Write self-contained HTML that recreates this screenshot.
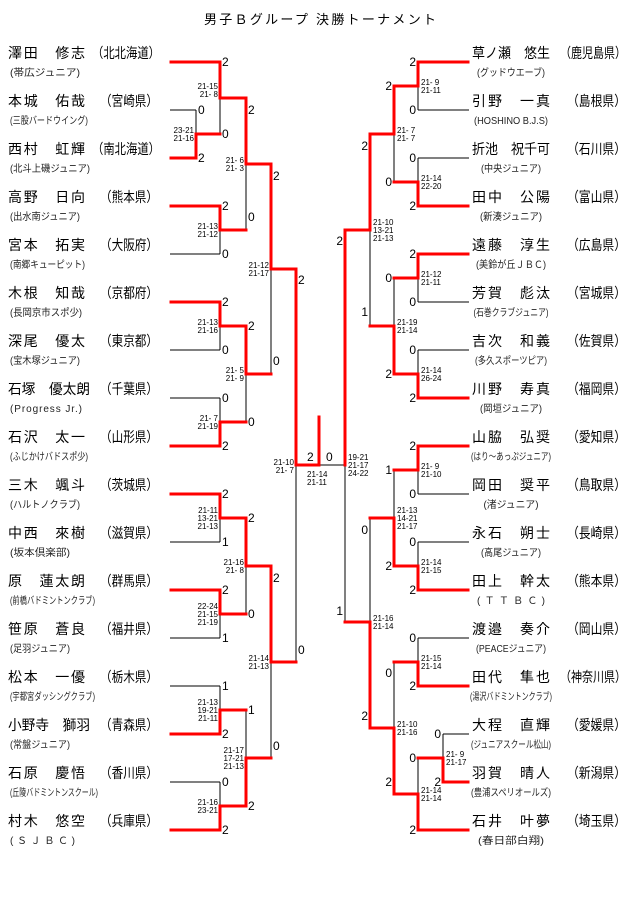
<!DOCTYPE html>
<html><head><meta charset="utf-8"><style>
html,body{margin:0;padding:0;background:#fff;}
svg{display:block;}
.nm{font-family:"Liberation Sans","Noto Sans CJK JP",sans-serif;font-size:14px;fill:#000;}
.cl{font-family:"Liberation Sans","Noto Sans CJK JP",sans-serif;font-size:10px;fill:#222;}
.sc{font-family:"Liberation Sans",sans-serif;font-size:8px;fill:#000;}
.dg{font-family:"Liberation Sans",sans-serif;font-size:12px;fill:#000;}
.tt{font-family:"Liberation Sans","Noto Sans CJK JP",sans-serif;font-size:13px;fill:#000;}
</style></head><body>
<svg width="640" height="905" viewBox="0 0 640 905" xmlns="http://www.w3.org/2000/svg">
<text class="tt" x="320" y="24" text-anchor="middle" textLength="232" lengthAdjust="spacing">男子Ｂグループ 決勝トーナメント</text>

<g stroke="#000" stroke-width="1" fill="none" shape-rendering="crispEdges">
<!-- left player lines -->
<path d="M170,62H220 M170,110H196 M170,158H196 M170,206H220 M170,254H220 M170,302H220 M170,350H220 M170,398H220 M170,446H220 M170,494H220 M170,542H220 M170,590H220 M170,638H220 M170,686H220 M170,734H220 M170,782H220 M170,830H220"/>
<path d="M196,110V158 M220,62V134 M220,206V254 M220,302V350 M220,398V446 M220,494V542 M220,590V638 M220,686V734 M220,782V830 M246,98V230 M246,326V422 M246,518V614 M246,710V806 M271,164V374 M271,566V758 M296,269V662"/>
<path d="M196,134H220 M220,98H246 M220,230H246 M220,326H246 M220,422H246 M220,518H246 M220,614H246 M220,710H246 M220,806H246 M246,164H271 M246,374H271 M246,566H271 M246,758H271 M271,269H296 M271,662H296 M296,465H345"/>
<!-- right -->
<path d="M418,62H469 M418,110H469 M418,158H469 M418,206H469 M418,254H469 M418,302H469 M418,350H469 M418,398H469 M418,446H469 M418,494H469 M418,542H469 M418,590H469 M418,638H469 M418,686H469 M443,734H469 M443,782H469 M418,830H469"/>
<path d="M418,62V110 M418,158V206 M418,254V302 M418,350V398 M418,446V494 M418,542V590 M418,638V686 M418,758V830 M443,734V782 M394,86V182 M394,278V374 M394,470V566 M394,662V794 M370,134V326 M370,518V728 M345,230V622"/>
<path d="M394,86H418 M394,182H418 M394,278H418 M394,374H418 M394,470H418 M394,566H418 M394,662H418 M394,794H418 M418,758H443 M370,134H394 M370,326H394 M370,518H394 M370,728H394 M345,230H370 M345,622H370"/>
</g>

<g stroke="#ff0000" stroke-width="3" fill="none" stroke-linejoin="miter" stroke-linecap="square">
<path d="M171,62H220V98H246V164H271V269H296V465H319V417"/>
<path d="M171,158H196V134H220"/>
<path d="M171,206H220V230H246"/>
<path d="M171,302H220V326H246V374H271"/>
<path d="M171,446H220V422H246"/>
<path d="M171,494H220V518H246V566H271V662H296"/>
<path d="M171,590H220V614H246"/>
<path d="M171,734H220V710H246"/>
<path d="M171,830H220V806H246V758H271"/>
<path d="M468,62H418V86H394V134H370V230H345V465"/>
<path d="M468,206H418V182H394"/>
<path d="M468,254H418V278H394"/>
<path d="M468,398H418V374H394V326H370"/>
<path d="M468,446H418V470H394"/>
<path d="M468,590H418V566H394V518H370"/>
<path d="M468,686H418V662H394"/>
<path d="M468,782H443V758H418"/>
<path d="M468,830H418V794H394V728H370V622H345"/>
</g>

<!-- win digits left -->
<g class="dg">
<text x="198" y="114">0</text><text x="198" y="162">2</text>
<text x="222" y="66">2</text><text x="222" y="138">0</text><text x="222" y="210">2</text><text x="222" y="258">0</text>
<text x="222" y="306">2</text><text x="222" y="354">0</text><text x="222" y="402">0</text><text x="222" y="450">2</text>
<text x="222" y="498">2</text><text x="222" y="546">1</text><text x="222" y="594">2</text><text x="222" y="642">1</text>
<text x="222" y="690">1</text><text x="222" y="738">2</text><text x="222" y="786">0</text><text x="222" y="834">2</text>
<text x="248" y="114">2</text><text x="248" y="221">0</text><text x="248" y="330">2</text><text x="248" y="426">0</text>
<text x="248" y="522">2</text><text x="248" y="618">0</text><text x="248" y="714">1</text><text x="248" y="810">2</text>
<text x="273" y="180">2</text><text x="273" y="365">0</text><text x="273" y="582">2</text><text x="273" y="750">0</text>
<text x="298" y="284">2</text><text x="298" y="654">0</text>
<text x="307" y="461">2</text><text x="326" y="461">0</text>
</g>
<!-- win digits right -->
<g class="dg" text-anchor="end">
<text x="416" y="66">2</text><text x="416" y="114">0</text><text x="416" y="162">0</text><text x="416" y="210">2</text>
<text x="416" y="258">2</text><text x="416" y="306">0</text><text x="416" y="354">0</text><text x="416" y="402">2</text>
<text x="416" y="450">2</text><text x="416" y="498">0</text><text x="416" y="546">0</text><text x="416" y="594">2</text>
<text x="416" y="642">0</text><text x="416" y="690">2</text><text x="416" y="762">0</text><text x="416" y="834">2</text>
<text x="441" y="738">0</text><text x="441" y="786">2</text>
<text x="392" y="90">2</text><text x="392" y="186">0</text><text x="392" y="282">0</text><text x="392" y="378">2</text>
<text x="392" y="474">1</text><text x="392" y="570">2</text><text x="392" y="677">0</text><text x="392" y="786">2</text>
<text x="368" y="150">2</text><text x="368" y="316">1</text><text x="368" y="534">0</text><text x="368" y="720">2</text>
<text x="343" y="245">2</text><text x="343" y="615">1</text>
</g>

<!-- scores left (right aligned) -->
<g class="sc" text-anchor="end">
<text x="194" y="133">23-21</text><text x="194" y="141">21-16</text>
<text x="218" y="89">21-15</text><text x="218" y="97">21- 8</text>
<text x="218" y="229">21-13</text><text x="218" y="237">21-12</text>
<text x="244" y="163">21- 6</text><text x="244" y="171">21- 3</text>
<text x="218" y="325">21-13</text><text x="218" y="333">21-16</text>
<text x="218" y="421">21- 7</text><text x="218" y="429">21-19</text>
<text x="244" y="373">21- 5</text><text x="244" y="381">21- 9</text>
<text x="269" y="268">21-12</text><text x="269" y="276">21-17</text>
<text x="218" y="513">21-11</text><text x="218" y="521">13-21</text><text x="218" y="529">21-13</text>
<text x="218" y="609">22-24</text><text x="218" y="617">21-15</text><text x="218" y="625">21-19</text>
<text x="244" y="565">21-16</text><text x="244" y="573">21- 8</text>
<text x="218" y="705">21-13</text><text x="218" y="713">19-21</text><text x="218" y="721">21-11</text>
<text x="218" y="805">21-16</text><text x="218" y="813">23-21</text>
<text x="244" y="753">21-17</text><text x="244" y="761">17-21</text><text x="244" y="769">21-13</text>
<text x="269" y="661">21-14</text><text x="269" y="669">21-13</text>
<text x="294" y="465">21-10</text><text x="294" y="473">21- 7</text>
</g>
<g class="sc">
<text x="307" y="477">21-14</text><text x="307" y="485">21-11</text>
<text x="348" y="460">19-21</text><text x="348" y="468">21-17</text><text x="348" y="476">24-22</text>
<text x="421" y="85">21- 9</text><text x="421" y="93">21-11</text>
<text x="421" y="181">21-14</text><text x="421" y="189">22-20</text>
<text x="397" y="133">21- 7</text><text x="397" y="141">21- 7</text>
<text x="421" y="277">21-12</text><text x="421" y="285">21-11</text>
<text x="421" y="373">21-14</text><text x="421" y="381">26-24</text>
<text x="397" y="325">21-19</text><text x="397" y="333">21-14</text>
<text x="373" y="225">21-10</text><text x="373" y="233">13-21</text><text x="373" y="241">21-13</text>
<text x="421" y="469">21- 9</text><text x="421" y="477">21-10</text>
<text x="421" y="565">21-14</text><text x="421" y="573">21-15</text>
<text x="397" y="513">21-13</text><text x="397" y="521">14-21</text><text x="397" y="529">21-17</text>
<text x="421" y="661">21-15</text><text x="421" y="669">21-14</text>
<text x="446" y="757">21- 9</text><text x="446" y="765">21-17</text>
<text x="421" y="793">21-14</text><text x="421" y="801">21-14</text>
<text x="397" y="727">21-10</text><text x="397" y="735">21-16</text>
<text x="373" y="621">21-16</text><text x="373" y="629">21-14</text>
</g>

<!-- left names -->
<g class="nm">
<text x="8" y="58" textLength="77" lengthAdjust="spacing">澤田　修志</text><text x="92" y="58" textLength="68" lengthAdjust="spacingAndGlyphs">（北北海道）</text>
<text x="8" y="106" textLength="77" lengthAdjust="spacing">本城　佑哉</text><text x="100" y="106" textLength="58" lengthAdjust="spacingAndGlyphs">（宮崎県）</text>
<text x="8" y="154" textLength="77" lengthAdjust="spacing">西村　虹輝</text><text x="92" y="154" textLength="68" lengthAdjust="spacingAndGlyphs">（南北海道）</text>
<text x="8" y="202" textLength="77" lengthAdjust="spacing">高野　日向</text><text x="100" y="202" textLength="58" lengthAdjust="spacingAndGlyphs">（熊本県）</text>
<text x="8" y="250" textLength="77" lengthAdjust="spacing">宮本　拓実</text><text x="100" y="250" textLength="58" lengthAdjust="spacingAndGlyphs">（大阪府）</text>
<text x="8" y="298" textLength="77" lengthAdjust="spacing">木根　知哉</text><text x="100" y="298" textLength="58" lengthAdjust="spacingAndGlyphs">（京都府）</text>
<text x="8" y="346" textLength="77" lengthAdjust="spacing">深尾　優太</text><text x="100" y="346" textLength="58" lengthAdjust="spacingAndGlyphs">（東京都）</text>
<text x="8" y="394" textLength="82" lengthAdjust="spacingAndGlyphs">石塚　優太朗</text><text x="100" y="394" textLength="58" lengthAdjust="spacingAndGlyphs">（千葉県）</text>
<text x="8" y="442" textLength="77" lengthAdjust="spacing">石沢　太一</text><text x="100" y="442" textLength="58" lengthAdjust="spacingAndGlyphs">（山形県）</text>
<text x="8" y="490" textLength="77" lengthAdjust="spacing">三木　颯斗</text><text x="100" y="490" textLength="58" lengthAdjust="spacingAndGlyphs">（茨城県）</text>
<text x="8" y="538" textLength="77" lengthAdjust="spacing">中西　來樹</text><text x="100" y="538" textLength="58" lengthAdjust="spacingAndGlyphs">（滋賀県）</text>
<text x="8" y="586" textLength="77" lengthAdjust="spacing">原　蓮太朗</text><text x="100" y="586" textLength="58" lengthAdjust="spacingAndGlyphs">（群馬県）</text>
<text x="8" y="634" textLength="77" lengthAdjust="spacing">笹原　蒼良</text><text x="100" y="634" textLength="58" lengthAdjust="spacingAndGlyphs">（福井県）</text>
<text x="8" y="682" textLength="77" lengthAdjust="spacing">松本　一優</text><text x="100" y="682" textLength="58" lengthAdjust="spacingAndGlyphs">（栃木県）</text>
<text x="8" y="730" textLength="82" lengthAdjust="spacingAndGlyphs">小野寺　獅羽</text><text x="100" y="730" textLength="58" lengthAdjust="spacingAndGlyphs">（青森県）</text>
<text x="8" y="778" textLength="77" lengthAdjust="spacing">石原　慶悟</text><text x="100" y="778" textLength="58" lengthAdjust="spacingAndGlyphs">（香川県）</text>
<text x="8" y="826" textLength="77" lengthAdjust="spacing">村木　悠空</text><text x="100" y="826" textLength="58" lengthAdjust="spacingAndGlyphs">（兵庫県）</text>
</g>
<g class="cl">
<text x="10" y="76" textLength="70" lengthAdjust="spacingAndGlyphs">(帯広ジュニア)</text>
<text x="10" y="124" textLength="78" lengthAdjust="spacingAndGlyphs">(三股バードウイング)</text>
<text x="10" y="172" textLength="80" lengthAdjust="spacingAndGlyphs">(北斗上磯ジュニア)</text>
<text x="10" y="220" textLength="70" lengthAdjust="spacingAndGlyphs">(出水南ジュニア)</text>
<text x="10" y="268" textLength="75" lengthAdjust="spacingAndGlyphs">(南郷キューピット)</text>
<text x="10" y="316" textLength="72" lengthAdjust="spacingAndGlyphs">(長岡京市スポ少)</text>
<text x="10" y="364" textLength="70" lengthAdjust="spacingAndGlyphs">(宝木塚ジュニア)</text>
<text x="10" y="412" textLength="72" lengthAdjust="spacing">(Progress Jr.)</text>
<text x="10" y="460" textLength="78" lengthAdjust="spacingAndGlyphs">(ふじかけバドスポ少)</text>
<text x="10" y="508" textLength="70" lengthAdjust="spacingAndGlyphs">(ハルトノクラブ)</text>
<text x="10" y="556" textLength="60" lengthAdjust="spacingAndGlyphs">(坂本倶楽部)</text>
<text x="10" y="604" textLength="85" lengthAdjust="spacingAndGlyphs">(前橋バドミントンクラブ)</text>
<text x="10" y="652" textLength="60" lengthAdjust="spacingAndGlyphs">(足羽ジュニア)</text>
<text x="10" y="700" textLength="85" lengthAdjust="spacingAndGlyphs">(宇都宮ダッシングクラブ)</text>
<text x="10" y="748" textLength="60" lengthAdjust="spacingAndGlyphs">(常盤ジュニア)</text>
<text x="10" y="796" textLength="88" lengthAdjust="spacingAndGlyphs">(丘陵バドミントンスクール)</text>
<text x="10" y="844" textLength="65" lengthAdjust="spacing">(ＳＪＢＣ)</text>
</g>

<!-- right names -->
<g class="nm">
<text x="472" y="58" textLength="78" lengthAdjust="spacingAndGlyphs">草ノ瀬　悠生</text><text x="560" y="58" textLength="66" lengthAdjust="spacingAndGlyphs">（鹿児島県）</text>
<text x="472" y="106" textLength="78" lengthAdjust="spacing">引野　一真</text><text x="567" y="106" textLength="59" lengthAdjust="spacingAndGlyphs">（島根県）</text>
<text x="472" y="154" textLength="78" lengthAdjust="spacingAndGlyphs">折池　祝千可</text><text x="567" y="154" textLength="59" lengthAdjust="spacingAndGlyphs">（石川県）</text>
<text x="472" y="202" textLength="78" lengthAdjust="spacing">田中　公陽</text><text x="567" y="202" textLength="59" lengthAdjust="spacingAndGlyphs">（富山県）</text>
<text x="472" y="250" textLength="78" lengthAdjust="spacing">遠藤　淳生</text><text x="567" y="250" textLength="59" lengthAdjust="spacingAndGlyphs">（広島県）</text>
<text x="472" y="298" textLength="78" lengthAdjust="spacing">芳賀　彪汰</text><text x="567" y="298" textLength="59" lengthAdjust="spacingAndGlyphs">（宮城県）</text>
<text x="472" y="346" textLength="78" lengthAdjust="spacing">吉次　和義</text><text x="567" y="346" textLength="59" lengthAdjust="spacingAndGlyphs">（佐賀県）</text>
<text x="472" y="394" textLength="78" lengthAdjust="spacing">川野　寿真</text><text x="567" y="394" textLength="59" lengthAdjust="spacingAndGlyphs">（福岡県）</text>
<text x="472" y="442" textLength="78" lengthAdjust="spacing">山脇　弘奨</text><text x="567" y="442" textLength="59" lengthAdjust="spacingAndGlyphs">（愛知県）</text>
<text x="472" y="490" textLength="78" lengthAdjust="spacing">岡田　奨平</text><text x="567" y="490" textLength="59" lengthAdjust="spacingAndGlyphs">（鳥取県）</text>
<text x="472" y="538" textLength="78" lengthAdjust="spacing">永石　朔士</text><text x="567" y="538" textLength="59" lengthAdjust="spacingAndGlyphs">（長崎県）</text>
<text x="472" y="586" textLength="78" lengthAdjust="spacing">田上　幹太</text><text x="567" y="586" textLength="59" lengthAdjust="spacingAndGlyphs">（熊本県）</text>
<text x="472" y="634" textLength="78" lengthAdjust="spacing">渡邉　奏介</text><text x="567" y="634" textLength="59" lengthAdjust="spacingAndGlyphs">（岡山県）</text>
<text x="472" y="682" textLength="78" lengthAdjust="spacing">田代　隼也</text><text x="560" y="682" textLength="66" lengthAdjust="spacingAndGlyphs">（神奈川県）</text>
<text x="472" y="730" textLength="78" lengthAdjust="spacing">大程　直輝</text><text x="567" y="730" textLength="59" lengthAdjust="spacingAndGlyphs">（愛媛県）</text>
<text x="472" y="778" textLength="78" lengthAdjust="spacing">羽賀　晴人</text><text x="567" y="778" textLength="59" lengthAdjust="spacingAndGlyphs">（新潟県）</text>
<text x="472" y="826" textLength="78" lengthAdjust="spacing">石井　叶夢</text><text x="567" y="826" textLength="59" lengthAdjust="spacingAndGlyphs">（埼玉県）</text>
</g>
<g class="cl" text-anchor="middle">
<text x="511" y="76" textLength="68" lengthAdjust="spacingAndGlyphs">(グッドウエーブ)</text>
<text x="511" y="124" textLength="74" lengthAdjust="spacingAndGlyphs">(HOSHINO B.J.S)</text>
<text x="511" y="172" textLength="60" lengthAdjust="spacingAndGlyphs">(中央ジュニア)</text>
<text x="511" y="220" textLength="62" lengthAdjust="spacingAndGlyphs">(新湊ジュニア)</text>
<text x="511" y="268" textLength="70" lengthAdjust="spacingAndGlyphs">(美鈴が丘ＪＢＣ)</text>
<text x="511" y="316" textLength="75" lengthAdjust="spacingAndGlyphs">(石巻クラブジュニア)</text>
<text x="511" y="364" textLength="72" lengthAdjust="spacingAndGlyphs">(多久スポーツピア)</text>
<text x="511" y="412" textLength="62" lengthAdjust="spacingAndGlyphs">(岡垣ジュニア)</text>
<text x="511" y="460" textLength="80" lengthAdjust="spacingAndGlyphs">(はり～あっぷジュニア)</text>
<text x="511" y="508" textLength="55" lengthAdjust="spacingAndGlyphs">(渚ジュニア)</text>
<text x="511" y="556" textLength="60" lengthAdjust="spacingAndGlyphs">(高尾ジュニア)</text>
<text x="511" y="604" textLength="68" lengthAdjust="spacing">(ＴＴＢＣ)</text>
<text x="511" y="652" textLength="70" lengthAdjust="spacingAndGlyphs">(PEACEジュニア)</text>
<text x="511" y="700" textLength="82" lengthAdjust="spacingAndGlyphs">(湯沢バドミントンクラブ)</text>
<text x="511" y="748" textLength="80" lengthAdjust="spacingAndGlyphs">(ジュニアスクール松山)</text>
<text x="511" y="796" textLength="80" lengthAdjust="spacingAndGlyphs">(豊浦スペリオールズ)</text>
<text x="511" y="844" textLength="66" lengthAdjust="spacingAndGlyphs">(春日部白翔)</text>
</g>
</svg>
</body></html>
